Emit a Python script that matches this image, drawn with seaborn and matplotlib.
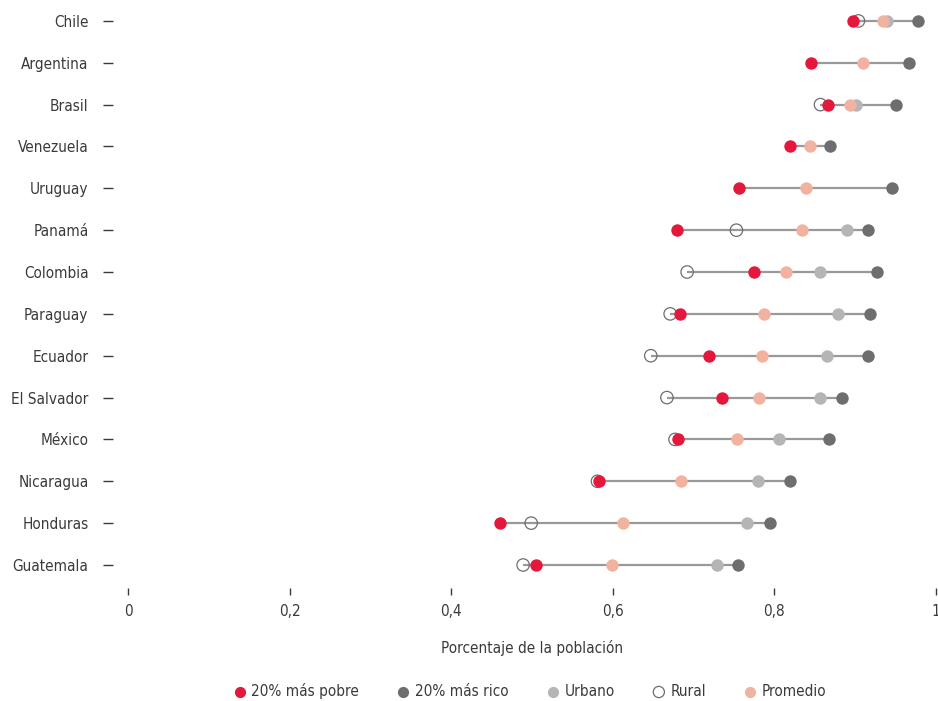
import matplotlib
matplotlib.use("Agg")
import numpy as np
import pandas as pd
import seaborn as sns
from matplotlib import pyplot as plt
from matplotlib import font_manager

countries = ["Chile", "Argentina", "Brasil", "Venezuela", "Uruguay", "Panamá",
             "Colombia", "Paraguay", "Ecuador", "El Salvador", "México",
             "Nicaragua", "Honduras", "Guatemala"]
pobre = [0.897, 0.845, 0.866, 0.819, 0.756, 0.680, 0.775, 0.683, 0.719,
         0.735, 0.681, 0.583, 0.460, 0.505]
rico = [0.978, 0.967, 0.950, 0.869, 0.946, 0.916, 0.927, 0.918, 0.916,
        0.884, 0.867, 0.819, 0.794, 0.755]
urbano = [0.939, np.nan, 0.901, np.nan, np.nan, 0.890, 0.857, 0.879, 0.865,
          0.856, 0.806, 0.780, 0.766, 0.729]
rural = [0.904, np.nan, 0.857, np.nan, np.nan, 0.753, 0.692, 0.671, 0.647,
         0.667, 0.677, 0.581, 0.499, 0.489]
promedio = [0.935, 0.910, 0.894, 0.844, 0.839, 0.834, 0.814, 0.787, 0.785,
            0.781, 0.754, 0.685, 0.613, 0.599]
xticks = [0, 0.2, 0.4, 0.6, 0.8, 1]
xtick_labels = ["0", "0,2", "0,4", "0,6", "0,8", "1"]

RED = "#e4183c"
DARK = "#6d6e70"
LIGHT = "#b4b5b7"
SALMON = "#f2b2a0"
TEXT = "#3a3a3a"

df = pd.DataFrame({"pais": countries, "pos": range(len(countries)),
                   "pobre": pobre, "rico": rico, "urbano": urbano,
                   "rural": rural, "promedio": promedio})
vals = df[["pobre", "rico", "urbano", "rural", "promedio"]]
df["lo"] = vals.min(axis=1)
df["hi"] = vals.max(axis=1)

# pick a narrow font if one is around
names = {f.name for f in font_manager.fontManager.ttflist}
condensed = [f for f in font_manager.fontManager.ttflist
             if f.name == "DejaVu Sans" and "ondensed" in str(f.stretch) + f.fname]
sns.set_style("white")
if "Liberation Sans Narrow" in names:
    plt.rcParams["font.family"] = ["Liberation Sans Narrow", "DejaVu Sans"]
    fs = 12.5
elif "DejaVu Sans Condensed" in names or condensed:
    plt.rcParams["font.family"] = ["DejaVu Sans"]
    plt.rcParams["font.stretch"] = "condensed"
    fs = 11
else:
    plt.rcParams["font.family"] = ["Roboto", "DejaVu Sans"]
    fs = 11
plt.rcParams["font.size"] = fs
plt.rcParams["text.color"] = TEXT
plt.rcParams["axes.labelcolor"] = TEXT
plt.rcParams["xtick.color"] = TEXT
plt.rcParams["ytick.color"] = TEXT

fig = plt.figure(figsize=(9.38, 7.01), dpi=100)
ax = fig.add_axes([128 / 938, 1 - 588 / 701, 808 / 938, 588 / 701])

ax.hlines(df["pos"], df["lo"], df["hi"], color="#999999", lw=1.6, zorder=1)

ms = 80
sns.scatterplot(data=df, x="rural", y="pos", ax=ax, s=ms, marker="o",
                facecolor="none", edgecolor=DARK, linewidth=0.9,
                label="Rural", zorder=2)
sns.scatterplot(data=df, x="urbano", y="pos", ax=ax, s=ms, color=LIGHT,
                linewidth=0, label="Urbano", zorder=3)
sns.scatterplot(data=df, x="rico", y="pos", ax=ax, s=ms, color=DARK,
                linewidth=0, label="20% más rico", zorder=3)
sns.scatterplot(data=df, x="promedio", y="pos", ax=ax, s=ms, color=SALMON,
                linewidth=0, label="Promedio", zorder=4)
sns.scatterplot(data=df, x="pobre", y="pos", ax=ax, s=ms, color=RED,
                linewidth=0, label="20% más pobre", zorder=5)

ax.set_xlim(0, 1)
ax.set_ylim(len(countries) - 1 + 0.55, -0.5)
ax.set_xticks(xticks)
ax.set_xticklabels(xtick_labels)
ax.set_yticks(df["pos"])
ax.set_yticklabels(countries)
ax.set_ylabel("")
ax.set_xlabel("Porcentaje de la población", labelpad=15.5)

for s in ax.spines.values():
    s.set_visible(False)
ax.spines["left"].set_position(("outward", 11))
ax.tick_params(axis="y", left=True, length=7.5, width=1, pad=10, labelsize=fs)
ax.tick_params(axis="x", bottom=True, length=5, width=1, pad=6.5, labelsize=fs)

handles, labels = ax.get_legend_handles_labels()
order = ["20% más pobre", "20% más rico", "Urbano", "Rural", "Promedio"]
hmap = dict(zip(labels, handles))
ax.legend_.remove()
fig.legend([hmap[k] for k in order], order, loc="center",
           bbox_to_anchor=(530 / 938, 1 - 691 / 701), ncol=5, frameon=False,
           markerscale=0.9, handlelength=0.8, handletextpad=0.35,
           columnspacing=2.5, fontsize=fs)

fig.savefig("out.png", dpi=100)
